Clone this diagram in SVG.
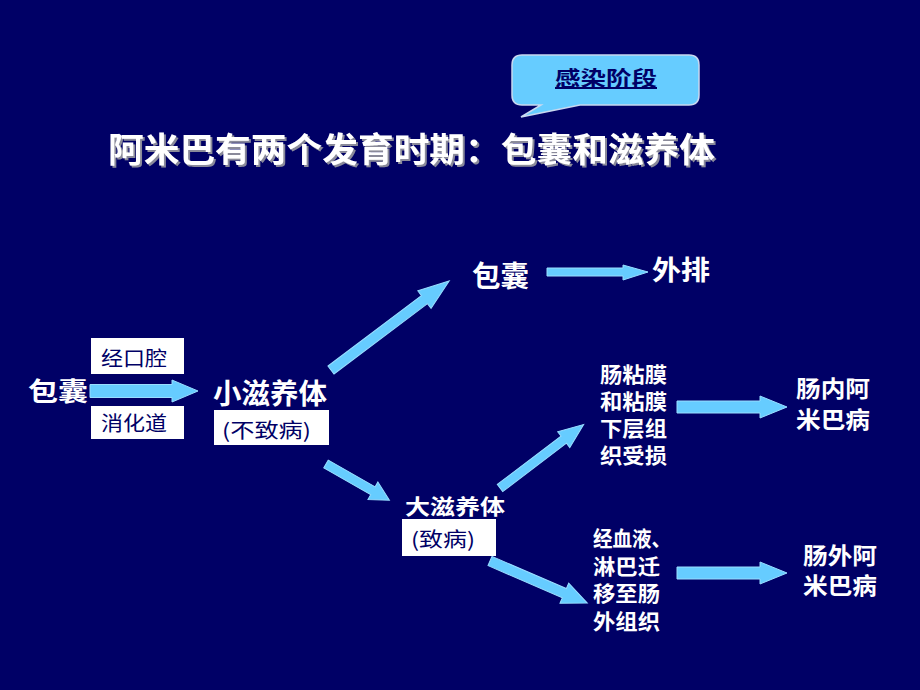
<svg xmlns="http://www.w3.org/2000/svg" width="920" height="690" viewBox="0 0 920 690">
<defs>
<style>
.t{font-family:"Noto Sans CJK SC","Liberation Sans",sans-serif;}
.w{fill:#ffffff;font-weight:bold;}
.n{fill:#000066;}
.box{fill:#ffffff;}
.arr{fill:#66ccff;stroke:#99ddff;stroke-width:1;}
</style>
<filter id="shadow" x="-5%" y="-20%" width="110%" height="150%">
<feDropShadow dx="2" dy="2" stdDeviation="0" flood-color="#8a8a9a" flood-opacity="1"/>
</filter>
</defs>
<rect x="0" y="0" width="920" height="690" fill="#000066"/>

<g id="callout">
<path d="M522,55 H689 Q699,55 699,65 V95 Q699,105 689,105 H580 L521,117 L541,105 H522 Q512,105 512,95 V65 Q512,55 522,55 Z" fill="#66ccff" stroke="#c8d8f0" stroke-width="1.5"/>
<text class="t n" x="555" y="86" font-size="20" font-weight="bold" text-decoration="underline" textLength="102" lengthAdjust="spacingAndGlyphs">感染阶段</text>
</g>

<g id="title">
<text class="t w" x="108" y="162" font-size="34" textLength="607" lengthAdjust="spacingAndGlyphs" filter="url(#shadow)">阿米巴有两个发育时期：包囊和滋养体</text>
</g>

<g id="connectors">
<path class="arr" d="M90,384.5 H172 V380 L198,391 L172,402 V397.5 H90 Z"/>
<path class="arr" transform="translate(331,370) rotate(-37)" d="M0,-5 H117 V-11 L148,0 L117,11 V5 H0 Z"/>
<path class="arr" transform="translate(326,464) rotate(29.7)" d="M0,-4.5 H54 V-10 L73,0 L54,10 V4.5 H0 Z"/>
<path class="arr" d="M547,268 H623 V265 L648,272 L623,280 V276 H547 Z"/>
<path class="arr" transform="translate(500,488) rotate(-37.2)" d="M0,-4.5 H80 V-10 L105,0 L80,10 V4.5 H0 Z"/>
<path class="arr" transform="translate(490,561) rotate(23.4)" d="M0,-5 H81 V-11 L106,0 L81,11 V5 H0 Z"/>
<path class="arr" d="M677,401 H760 V396 L787,407 L760,418 V413 H677 Z"/>
<path class="arr" d="M677,567 H760 V562 L787,573 L760,584 V579 H677 Z"/>
</g>

<g id="cyst-left">
<text class="t w" x="28" y="401" font-size="26" textLength="60" lengthAdjust="spacingAndGlyphs">包囊</text>
</g>

<g id="oral">
<rect class="box" x="91" y="338" width="93" height="36"/>
<text class="t n" x="101" y="366" font-size="20" textLength="66" lengthAdjust="spacingAndGlyphs">经口腔</text>
</g>

<g id="digest">
<rect class="box" x="91" y="406" width="93" height="33"/>
<text class="t n" x="101" y="431" font-size="20" textLength="66" lengthAdjust="spacingAndGlyphs">消化道</text>
</g>

<g id="small-troph">
<text class="t w" x="213" y="404" font-size="28" textLength="114" lengthAdjust="spacingAndGlyphs">小滋养体</text>
<rect class="box" x="214" y="410" width="115" height="35"/>
<text class="t n" x="222" y="438" font-size="20" textLength="89" lengthAdjust="spacingAndGlyphs">(不致病)</text>
</g>

<g id="cyst-top">
<text class="t w" x="472" y="287" font-size="29" textLength="57" lengthAdjust="spacingAndGlyphs">包囊</text>
</g>

<g id="excrete">
<text class="t w" x="652" y="280" font-size="27" textLength="58" lengthAdjust="spacingAndGlyphs">外排</text>
</g>

<g id="large-troph">
<text class="t w" x="405" y="514" font-size="21" textLength="100" lengthAdjust="spacingAndGlyphs">大滋养体</text>
<rect class="box" x="402" y="519" width="94" height="37"/>
<text class="t n" x="411" y="547" font-size="20" textLength="64" lengthAdjust="spacingAndGlyphs">(致病)</text>
</g>

<g id="mucosa">
<text class="t w" font-size="21">
<tspan x="600" y="382" textLength="67" lengthAdjust="spacingAndGlyphs">肠粘膜</tspan>
<tspan x="600" y="409" textLength="67" lengthAdjust="spacingAndGlyphs">和粘膜</tspan>
<tspan x="600" y="436" textLength="67" lengthAdjust="spacingAndGlyphs">下层组</tspan>
<tspan x="600" y="463" textLength="67" lengthAdjust="spacingAndGlyphs">织受损</tspan>
</text>
</g>

<g id="intestinal">
<text class="t w" font-size="23">
<tspan x="796" y="397" textLength="74" lengthAdjust="spacingAndGlyphs">肠内阿</tspan>
<tspan x="796" y="428" textLength="74" lengthAdjust="spacingAndGlyphs">米巴病</tspan>
</text>
</g>

<g id="blood">
<text class="t w" font-size="21">
<tspan x="593" y="546" textLength="78" lengthAdjust="spacingAndGlyphs">经血液、</tspan>
<tspan x="593" y="574" textLength="67" lengthAdjust="spacingAndGlyphs">淋巴迁</tspan>
<tspan x="593" y="601" textLength="67" lengthAdjust="spacingAndGlyphs">移至肠</tspan>
<tspan x="593" y="629" textLength="67" lengthAdjust="spacingAndGlyphs">外组织</tspan>
</text>
</g>

<g id="extraintestinal">
<text class="t w" font-size="23">
<tspan x="803" y="564" textLength="74" lengthAdjust="spacingAndGlyphs">肠外阿</tspan>
<tspan x="803" y="594" textLength="74" lengthAdjust="spacingAndGlyphs">米巴病</tspan>
</text>
</g>
</svg>
